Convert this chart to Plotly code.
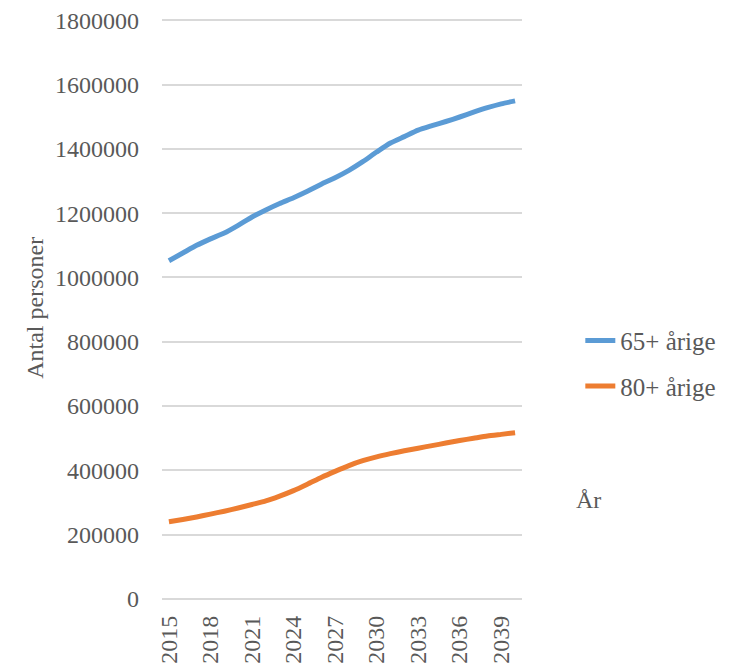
import plotly.graph_objects as go

years = list(range(2015, 2041))
age65 = [1052000, 1076000, 1100000, 1120000, 1138000, 1162000, 1188000, 1210000,
         1230000, 1248000, 1268000, 1290000, 1310000, 1333000, 1360000, 1390000,
         1418000, 1438000, 1458000, 1472000, 1485000, 1499000, 1514000, 1528000,
         1540000, 1549000]
age80 = [240000, 247000, 255000, 264000, 273000, 283000, 294000, 305000,
         320000, 337000, 357000, 378000, 397000, 415000, 430000, 442000,
         452000, 461000, 469000, 477000, 485000, 493000, 500000, 507000,
         512000, 517000]
x_ticks = list(range(2015, 2040, 3))
y_ticks = list(range(0, 1800001, 200000))
series_names = ["65+ årige", "80+ årige"]

FONT = "Liberation Serif"
TXT = "#595959"
GRID = "#D9D9D9"

fig = go.Figure()
fig.add_trace(go.Scatter(x=years, y=age65, mode="lines", name=series_names[0],
                         line=dict(color="#5B9BD5", width=5, shape="spline", smoothing=0.6),
                         legendgroup="a"))
fig.add_trace(go.Scatter(x=years, y=age80, mode="lines", name=series_names[1],
                         line=dict(color="#ED7D31", width=5, shape="spline", smoothing=0.6),
                         legendgroup="b"))

fig.update_layout(
    width=731, height=666,
    margin=dict(l=154, r=217, t=9, b=75, autoexpand=False),
    paper_bgcolor="white", plot_bgcolor="white",
    font=dict(family=FONT, size=24, color=TXT),
    showlegend=True,
    legend=dict(x=1.162, y=0.405, xanchor="left", yanchor="middle",
                font=dict(family=FONT, size=25, color=TXT),
                tracegroupgap=10, traceorder="grouped", bgcolor="rgba(0,0,0,0)"),
    annotations=[
        dict(text="Antal personer", xref="paper", yref="paper", x=-0.395, y=0.5,
             textangle=-90, showarrow=False, font=dict(family=FONT, size=24, color=TXT)),
        dict(text="År", xref="paper", yref="paper", x=1.225, y=0.144,
             showarrow=False, font=dict(family=FONT, size=24, color=TXT)),
    ],
)
fig.update_xaxes(range=[2014.5, 2040.5], tickvals=x_ticks, ticktext=[str(v) for v in x_ticks],
                 tickangle=-90, showgrid=False, showline=False, zeroline=False, automargin=False,
                 ticklabeloverflow="allow",
                 ticks="", ticklabelstandoff=11, tickfont=dict(family=FONT, size=24, color=TXT))
fig.update_yaxes(range=[0, 1810000], tickmode="array", tickvals=y_ticks,
                 ticktext=[str(v) for v in y_ticks], automargin=False,
                 ticklabeloverflow="allow",
                 showgrid=True, gridcolor=GRID, gridwidth=1.5,
                 zeroline=True, zerolinecolor=GRID, zerolinewidth=1.5,
                 showline=False, ticks="", ticklabelstandoff=22,
                 tickfont=dict(family=FONT, size=24, color=TXT))

fig.write_html("out.html")
